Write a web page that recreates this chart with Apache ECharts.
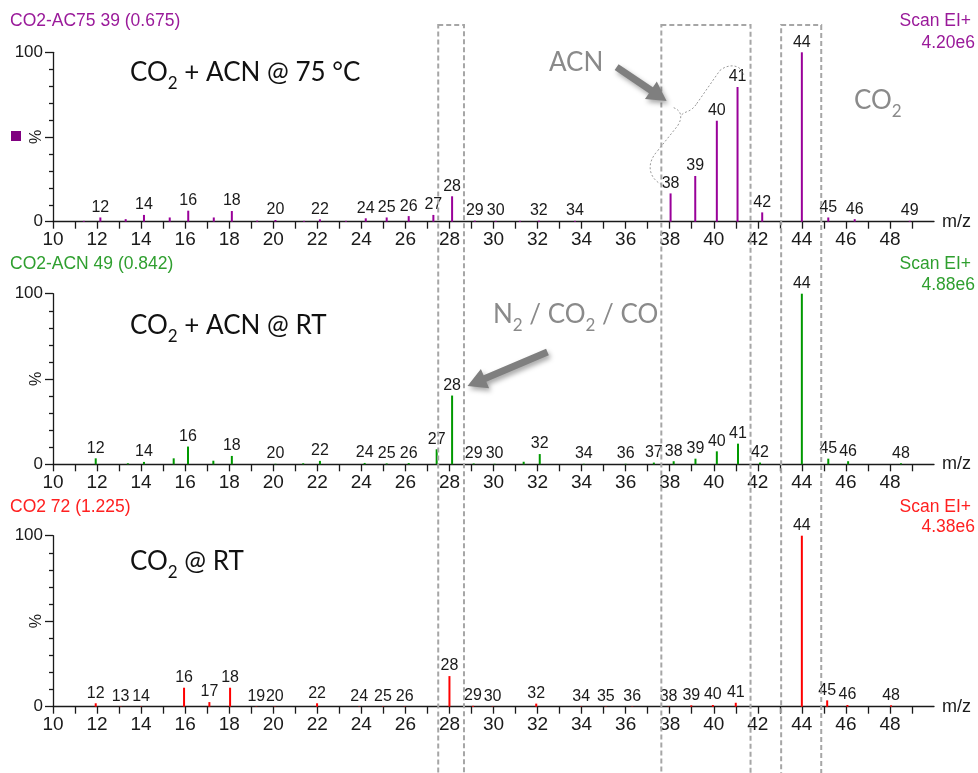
<!DOCTYPE html>
<html>
<head>
<meta charset="utf-8">
<script src="https://cdn.jsdelivr.net/npm/echarts@6/dist/echarts.min.js"></script>
<style>
  html, body { margin: 0; padding: 0; background: #fff; }
  #chart { width: 978px; height: 773px; }
</style>
</head>
<body>
<div id="chart"></div>
<script>
// m/z axis ticks and labels
const mzTicks = [10,11,12,13,14,15,16,17,18,19,20,21,22,23,24,25,26,27,28,29,30,31,32,33,34,35,36,37,38,39,40,41,42,43,44,45,46,47,48,49];
const mzTickLabels = [10,12,14,16,18,20,22,24,26,28,30,32,34,36,38,40,42,44,46,48];

// Spectrum peaks: [m/z, relative intensity %, nominal mass label or null]
const peaksACN75 = [
  [11.4, 0.5, null], [12.15, 2.5, 12], [13.3, 1.5, null], [14.13, 4, 14], [15.3, 2.5, null],
  [16.14, 6.5, 16], [17.3, 2.5, null], [18.12, 6.3, 18], [19.27, 0.6, null], [20.1, 1, 20],
  [21.4, 0.5, null], [22.12, 1.4, 22], [23.3, 0.5, null], [24.2, 2, 24], [25.15, 2.5, 25],
  [26.15, 3.3, 26], [27.27, 4, 27], [28.12, 15, 28], [29.15, 0.6, 29], [30.1, 0.5, 30],
  [31.2, 0.5, null], [32.06, 0.6, 32], [33.7, 0.5, 34], [38.04, 16.7, 38], [39.16, 27, 39],
  [40.14, 59.6, 40], [41.08, 79.5, 41], [42.2, 5.5, 42], [44.0, 100, 44], [45.2, 2.5, 45],
  [46.4, 1.5, 46], [48.9, 0.5, 49]
];
const peaksACNRT = [
  [11.94, 3.5, 12], [13.4, 0.6, null], [14.13, 1.4, 14], [15.48, 3.5, null], [16.13, 10.4, 16],
  [17.28, 2.1, null], [18.12, 4.9, 18], [20.1, 0.3, 20], [21.36, 0.6, null], [22.12, 2, 22],
  [24.15, 0.8, 24], [25.15, 0.5, 25], [26.15, 0.7, 26], [27.42, 8.8, 27], [28.12, 40.3, 28],
  [29.1, 0.5, 29], [30.05, 0.3, 30], [31.37, 1.5, null], [32.1, 6, 32], [34.1, 0.3, 34],
  [36.0, 0.3, 36], [37.28, 1, 37], [38.18, 1.8, 38], [39.17, 3.3, 39], [40.14, 7.6, 40],
  [41.1, 12.1, 41], [42.1, 1, 42], [44.0, 100, 44], [45.2, 3.3, 45], [46.1, 1.8, 46],
  [48.5, 0.6, 48]
];
const peaksCO2RT = [
  [11.94, 2, 12], [13.07, 0.2, 13], [14.0, 0.2, 14], [15.95, 11.1, 16], [17.1, 2.7, 17],
  [18.04, 11.1, 18], [19.23, 0.2, 19], [20.07, 0.2, 20], [21.99, 2, 22], [23.9, 0.2, 24],
  [24.98, 0.2, 25], [25.97, 0.2, 26], [28.0, 17.9, 28], [29.07, 0.5, 29], [29.96, 0.2, 30],
  [31.94, 1.8, 32], [33.98, 0.2, 34], [35.1, 0.2, 35], [36.3, 0.2, 36], [37.95, 0.2, 38],
  [38.98, 0.8, 39], [39.96, 1, 40], [41.0, 2.3, 41], [44.0, 100, 44], [45.15, 3.7, 45],
  [46.07, 1, 46], [48.05, 0.8, 48]
];

// Run headers
const runNames = ['CO2-AC75 39 (0.675)', 'CO2-ACN 49 (0.842)', 'CO2 72 (1.225)'];
const scanModes = ['Scan EI+', 'Scan EI+', 'Scan EI+'];
const ticValues = ['4.20e6', '4.88e6', '4.38e6'];
const sampleLabels = [
  ['CO', '2', ' + ACN @ 75 °C'],
  ['CO', '2', ' + ACN @ RT'],
  ['CO', '2', ' @ RT']
];

const runColors = ['#990099', '#009900', '#ff0000'];
const headerColors = ['#9a1a9a', '#2f9f2f', '#ff2020'];
const AXIS_FONT = 'Liberation Sans, Arial, sans-serif';
const NOTE_FONT = 'Lato, Carlito, sans-serif';
const ink = '#1a1a1a';

const panels = [peaksACN75, peaksACNRT, peaksCO2RT];
const grids = [
  { left: 53, right: 44, top: 52.3, height: 169.4 },
  { left: 53, right: 44, top: 293.7, height: 170.6 },
  { left: 53, right: 44, top: 535.7, height: 171 }
];

const chart = echarts.init(document.getElementById('chart'), null, { renderer: 'canvas' });

const xAxes = grids.map((g, i) => ({
  type: 'value', gridIndex: i, min: 10, max: 50,
  name: 'm/z', nameLocation: 'end', nameGap: 8,
  nameTextStyle: { fontFamily: AXIS_FONT, fontSize: 18, color: ink, verticalAlign: 'middle' },
  axisLine: { show: true, onZero: false, lineStyle: { color: ink, width: 1.3 } },
  axisTick: { show: true, customValues: mzTicks, length: 7, lineStyle: { color: ink, width: 1.3 } },
  axisLabel: { customValues: mzTickLabels, margin: 9, fontFamily: AXIS_FONT, fontSize: 19, color: ink },
  splitLine: { show: false }
}));

const yAxes = grids.map((g, i) => ({
  type: 'value', gridIndex: i, min: 0, max: 100, interval: 50,
  name: '%', nameLocation: 'middle', nameRotate: 90, nameGap: 8, nameMoveOverlap: false,
  nameTextStyle: { fontFamily: AXIS_FONT, fontSize: 16, color: ink },
  axisLine: { show: true, lineStyle: { color: ink, width: 1.3 } },
  axisTick: { show: true, length: 8, lineStyle: { color: ink, width: 1.3 } },
  minorTick: { show: true, splitNumber: 5, length: 4, lineStyle: { color: ink, width: 1.3 } },
  axisLabel: { margin: 10, fontFamily: AXIS_FONT, fontSize: 17, color: ink,
    formatter: v => (v === 50 ? '' : String(v)) },
  splitLine: { show: false }
}));

const series = panels.map((peaks, i) => ({
  type: 'bar', xAxisIndex: i, yAxisIndex: i, barWidth: 2,
  itemStyle: { color: runColors[i] },
  label: {
    show: true, position: 'top', distance: 2, formatter: '{b}',
    fontFamily: AXIS_FONT, fontSize: 16, color: ink
  },
  data: peaks.map(p => ({ name: p[2] == null ? '' : String(p[2]), value: [p[0], p[1]] })),
  animation: false
}));

chart.setOption({
  animation: false,
  grid: grids,
  xAxis: xAxes,
  yAxis: yAxes,
  series: series
});

// Headers, annotations and highlight boxes
function px(panel, mz, pct) {
  return chart.convertToPixel({ xAxisIndex: panel, yAxisIndex: panel }, [mz, pct]);
}

function arrowShape(tail, tip, w, hl, hw) {
  const dx = tip[0] - tail[0], dy = tip[1] - tail[1];
  const L = Math.hypot(dx, dy);
  const ux = dx / L, uy = dy / L, nx = -uy, ny = ux;
  const bx = tip[0] - ux * hl, by = tip[1] - uy * hl;
  return [
    [tail[0] + nx * w / 2, tail[1] + ny * w / 2],
    [bx + nx * w / 2, by + ny * w / 2],
    [bx + nx * hw / 2, by + ny * hw / 2],
    [tip[0], tip[1]],
    [bx - nx * hw / 2, by - ny * hw / 2],
    [bx - nx * w / 2, by - ny * w / 2],
    [tail[0] - nx * w / 2, tail[1] - ny * w / 2]
  ];
}

const graphics = [];
const headerY = [21, 264, 507];
const ticY = [43.5, 285, 527];
const sampleY = [60, 313, 549];
const W = 978;

function subRich(fill) {
  return {
    a: { font: '26px ' + NOTE_FONT, fill: fill, lineHeight: 30, verticalAlign: 'top' },
    s: { font: '17px ' + NOTE_FONT, fill: fill, lineHeight: 17, padding: [15, 0, 0, 0], verticalAlign: 'top' }
  };
}

for (let i = 0; i < 3; i++) {
  graphics.push({
    type: 'text', x: 10, y: headerY[i],
    style: { text: runNames[i], fill: headerColors[i], font: '17.5px ' + AXIS_FONT, verticalAlign: 'middle' }
  });
  graphics.push({
    type: 'text', x: W - 7, y: headerY[i],
    style: { text: scanModes[i], fill: headerColors[i], font: '17.5px ' + AXIS_FONT, align: 'right', verticalAlign: 'middle' }
  });
  graphics.push({
    type: 'text', x: W - 3, y: ticY[i],
    style: { text: ticValues[i], fill: headerColors[i], font: '17.5px ' + AXIS_FONT, align: 'right', verticalAlign: 'middle' }
  });
  const s = sampleLabels[i];
  graphics.push({
    type: 'text', x: 130, y: sampleY[i],
    style: { text: '{a|' + s[0] + '}{s|' + s[1] + '}{a|' + s[2] + '}', rich: subRich('#111') }
  });
}

// legend marker of the first trace
graphics.push({ type: 'rect', shape: { x: 11, y: 131, width: 10, height: 10 }, style: { fill: '#800080' } });

// Gray notes
const noteGray = '#8a8a8a';
graphics.push({
  type: 'text', x: 549, y: 50,
  style: { text: 'ACN', font: '26px ' + NOTE_FONT, fill: noteGray }
});
graphics.push({
  type: 'text', x: 854, y: 88,
  style: { text: '{a|CO}{s|2}', rich: subRich(noteGray) }
});
graphics.push({
  type: 'text', x: 493, y: 302,
  style: { text: '{a|N}{s|2}{a| / CO}{s|2}{a| / CO}', rich: subRich(noteGray) }
});

// Dashed highlight boxes spanning all three spectra
const boxes = [[27.49, 28.66], [37.62, 41.67], [43.06, 44.88]];
boxes.forEach(b => {
  const x0 = px(0, b[0], 0)[0], x1 = px(0, b[1], 0)[0];
  graphics.push({
    type: 'rect', shape: { x: x0, y: 25, width: x1 - x0, height: 780 },
    style: { fill: 'none', stroke: '#a6a6a6', lineWidth: 2, lineDash: [5, 3] },
    z: 50
  });
});

// Arrows
const arrowStyle = {
  fill: '#7f7f7f', shadowBlur: 5, shadowColor: 'rgba(0,0,0,0.35)', shadowOffsetX: 2, shadowOffsetY: 3
};
graphics.push({
  type: 'polygon', z: 60,
  shape: { points: arrowShape(px(0, 35.59, 91.3), px(0, 37.86, 71.3), 7, 19, 21) },
  style: arrowStyle
});
graphics.push({
  type: 'polygon', z: 60,
  shape: { points: arrowShape(px(1, 32.45, 65.8), px(1, 28.82, 45.9), 7, 19, 21) },
  style: arrowStyle
});

// Dotted brace grouping the ACN fragment peaks
const anchor = px(0, 38, 0);
const ox = anchor[0] - 671, oy = anchor[1] - 222;
const braceStyle = { fill: 'none', stroke: '#9a9a9a', lineWidth: 1, lineDash: [2, 2] };
const braceCurves = [
  [663, 185, 650, 178, 647, 164, 659, 151],
  [679, 126, 684, 118, 683, 111, 675, 108],
  [683, 115, 687, 111, 692, 113, 698, 104],
  [721, 71, 729, 64, 742, 64, 745, 75]
];
braceCurves.forEach(c => {
  graphics.push({
    type: 'bezierCurve', z: 55,
    shape: { x1: c[0] + ox, y1: c[1] + oy, cpx1: c[2] + ox, cpy1: c[3] + oy,
      cpx2: c[4] + ox, cpy2: c[5] + oy, x2: c[6] + ox, y2: c[7] + oy },
    style: braceStyle
  });
});
[[659, 151, 679, 126], [698, 104, 721, 71]].forEach(l => {
  graphics.push({
    type: 'line', z: 55,
    shape: { x1: l[0] + ox, y1: l[1] + oy, x2: l[2] + ox, y2: l[3] + oy },
    style: braceStyle
  });
});

chart.setOption({ graphic: graphics });
</script>
</body>
</html>
